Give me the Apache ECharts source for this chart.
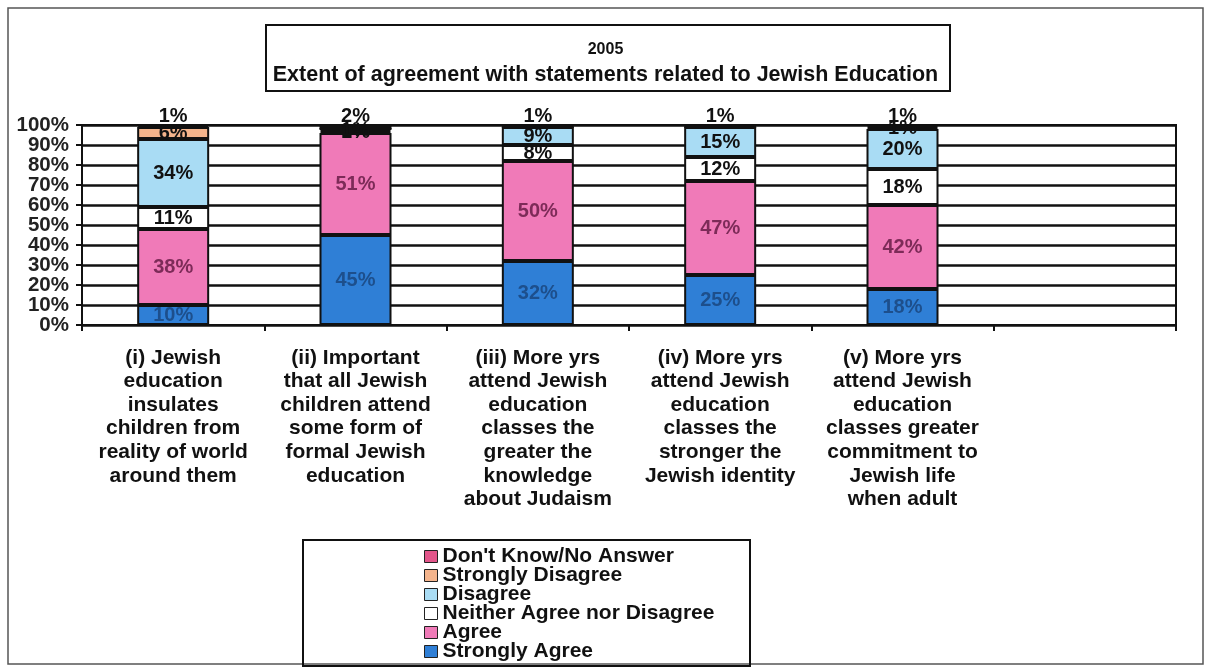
<!DOCTYPE html>
<html>
<head>
<meta charset="utf-8">
<title>2005 Extent of agreement with statements related to Jewish Education</title>
<script src="https://cdn.jsdelivr.net/npm/echarts@6/dist/echarts.min.js"></script>
<style>
  html, body { margin: 0; padding: 0; background: #fff; }
  #chart { width: 1211px; height: 671px; }
</style>
</head>
<body>
<div id="chart"></div>
<script>
// Statements (the last slot is left empty on the category axis)
const categories = [
  '(i) Jewish\neducation\ninsulates\nchildren from\nreality of world\naround them',
  '(ii) Important\nthat all Jewish\nchildren attend\nsome form of\nformal Jewish\neducation',
  '(iii) More yrs\nattend Jewish\neducation\nclasses the\ngreater the\nknowledge\nabout Judaism',
  '(iv) More yrs\nattend Jewish\neducation\nclasses the\nstronger the\nJewish identity',
  '(v) More yrs\nattend Jewish\neducation\nclasses greater\ncommitment to\nJewish life\nwhen adult',
  ''
];

// Percentages per response, one value per statement
const stronglyAgree    = [10, 45, 32, 25, 18];
const agree            = [38, 51, 50, 47, 42];
const neither          = [11, 1, 8, 12, 18];
const disagree         = [34, 1, 9, 15, 20];
const stronglyDisagree = [6, 0, 0, 0, 1];
const dontKnow         = [1, 2, 1, 1, 1];

const yTicks = [0, 10, 20, 30, 40, 50, 60, 70, 80, 90, 100];

const FONT = '"Liberation Sans", Arial, sans-serif';

const chart = echarts.init(document.getElementById('chart'));

function pctLabel(color, position) {
  return {
    show: true,
    position: position || 'inside',
    distance: 0,
    fontFamily: FONT,
    fontWeight: 'bold',
    fontSize: 20,
    lineHeight: 18,
    color: color,
    formatter: p => (p.value > 0 ? p.value + '%' : '')
  };
}

function barSeries(name, data, color, labelColor, labelPos) {
  return {
    name: name,
    type: 'bar',
    stack: 'total',
    yAxisIndex: 0,
    barWidth: 72,
    data: data,
    itemStyle: { color: color, borderColor: '#111', borderWidth: 2 },
    label: pctLabel(labelColor, labelPos),
    labelLayout: { hideOverlap: false },
    z: 3
  };
}

// The tick labels are tightly packed, so they are split over two
// coincident axes (even and odd steps) to keep every one of them drawn.
function yTickLabels(keepEven) {
  return {
    margin: 13,
    fontFamily: FONT,
    fontWeight: 'bold',
    fontSize: 20.5,
    color: '#222',
    formatter: v => (((v / 10) % 2 === 0) === keepEven ? v + '%' : '')
  };
}

const option = {
  animation: false,
  backgroundColor: '#fff',
  title: {
    text: '2005',
    subtext: 'Extent of agreement with statements related to Jewish Education',
    left: 'center',
    top: 37,
    itemGap: 7,
    textStyle: { fontFamily: FONT, fontWeight: 'bold', fontSize: 16, color: '#111' },
    subtextStyle: { fontFamily: FONT, fontWeight: 'bold', fontSize: 21.5, lineHeight: 20, color: '#111' }
  },
  legend: {
    orient: 'vertical',
    left: 424,
    top: 546,
    padding: 0,
    icon: 'rect',
    itemWidth: 13,
    itemHeight: 12,
    itemGap: -2,
    data: ["Don't Know/No Answer", 'Strongly Disagree', 'Disagree',
           'Neither Agree nor Disagree', 'Agree', 'Strongly Agree'],
    textStyle: { fontFamily: FONT, fontWeight: 'bold', fontSize: 21, color: '#111' },
    itemStyle: { borderColor: '#222', borderWidth: 1 }
  },
  grid: {
    left: 82, right: 35, top: 125, bottom: 346,
    show: true, borderColor: '#111', borderWidth: 2, backgroundColor: 'transparent'
  },
  xAxis: {
    type: 'category',
    data: categories,
    axisLine: { lineStyle: { color: '#111', width: 2 } },
    axisTick: { show: true, length: 6, lineStyle: { color: '#111', width: 2 } },
    axisLabel: {
      interval: 0,
      margin: 21,
      fontFamily: FONT,
      fontWeight: 'bold',
      fontSize: 21,
      lineHeight: 23.6,
      color: '#111'
    }
  },
  yAxis: [
    {
      type: 'value',
      position: 'left',
      min: yTicks[0],
      max: yTicks[yTicks.length - 1],
      interval: 10,
      axisLine: { show: true, lineStyle: { color: '#111', width: 2 } },
      axisTick: { show: true, length: 6, lineStyle: { color: '#111', width: 2 } },
      axisLabel: yTickLabels(true),
      splitLine: { show: true, lineStyle: { color: '#111', width: 2.5 } }
    },
    {
      type: 'value',
      position: 'left',
      offset: 0,
      min: yTicks[0],
      max: yTicks[yTicks.length - 1],
      interval: 10,
      axisLine: { show: false },
      axisTick: { show: false },
      axisLabel: yTickLabels(false),
      splitLine: { show: false }
    }
  ],
  graphic: [
    {
      type: 'rect',
      shape: { x: 8, y: 8, width: 1195, height: 656 },
      style: { fill: 'none', stroke: '#555', lineWidth: 1.5 },
      z: -1
    },
    {
      type: 'rect',
      shape: { x: 266, y: 25, width: 684, height: 66 },
      style: { fill: 'none', stroke: '#111', lineWidth: 2 },
      z: 10
    },
    {
      type: 'rect',
      shape: { x: 303, y: 540, width: 447, height: 126 },
      style: { fill: 'none', stroke: '#111', lineWidth: 2 },
      z: 10
    }
  ],
  series: [
    barSeries('Strongly Agree', stronglyAgree, '#2f7fd6', '#1d4f8c'),
    barSeries('Agree', agree, '#f07ab8', '#7d2b58'),
    barSeries('Neither Agree nor Disagree', neither, '#ffffff', '#111'),
    barSeries('Disagree', disagree, '#a9dcf4', '#111'),
    barSeries('Strongly Disagree', stronglyDisagree, '#f4b48c', '#111'),
    barSeries("Don't Know/No Answer", dontKnow, '#e2558a', '#111', 'top')
  ]
};

chart.setOption(option);
</script>
</body>
</html>
